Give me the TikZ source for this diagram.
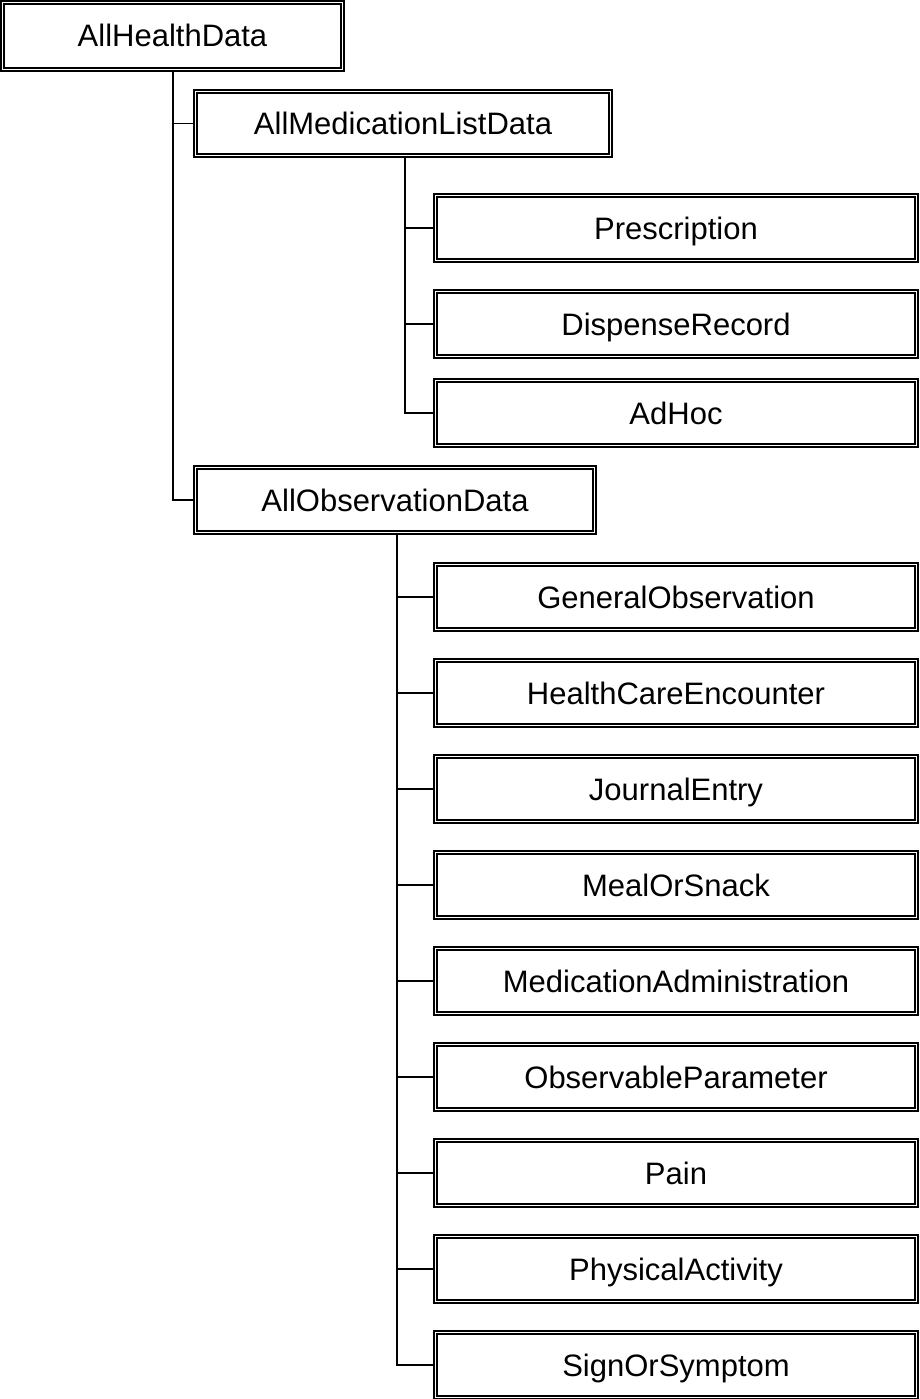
\documentclass[tikz,border=0pt]{standalone}
\usepackage{fontspec}
\setmainfont{Liberation Sans}
\usepackage{tikz}
\tikzset{>=stealth}
\tikzset{
  databox/.style={draw, line width=1.9pt, double, double distance=1.5pt,
    inner sep=0pt, minimum height=65pt, text height=22pt, text depth=0pt,
    font=\fontsize{31}{37}\selectfont},
  treeline/.style={line width=1.2pt}
}

\begin{document}
\begin{tikzpicture}[x=1pt, y=-1pt]
    \useasboundingbox (0,0) rectangle (919,1399);

    \node[databox, minimum width=339.8pt, minimum height=66.8pt] at (172.5, 36) (health) {AllHealthData};
    \node[databox, minimum width=414.8pt, minimum height=63.8pt] at (403, 123.5) (medlist) {AllMedicationListData};
    \node[databox, minimum width=398.8pt] at (395, 500) (obs) {AllObservationData};

    % medication list entries
    \node[databox, minimum width=480.8pt] at (676, 228) (prescription) {Prescription};
    \node[databox, minimum width=480.8pt] at (676, 324) (dispense) {DispenseRecord};
    \node[databox, minimum width=480.8pt] at (676, 413) (adhoc) {AdHoc};

    % observation entries
    \foreach \name/\txt [count=\i from 0] in {general/GeneralObservation, encounter/HealthCareEncounter,
        journal/JournalEntry, meal/MealOrSnack, medadmin/MedicationAdministration,
        parameter/ObservableParameter, pain/Pain, activity/PhysicalActivity, symptom/SignOrSymptom}
      \node[databox, minimum width=480.8pt] at (676, 597+96*\i) (\name) {\txt};

    \draw[treeline] ([xshift=0.5pt]health.south) |- (medlist.west);
    \draw[treeline] ([xshift=0.5pt]health.south) |- (obs.west);
    \foreach \kid in {prescription, dispense, adhoc}
      \draw[treeline] ([xshift=2pt]medlist.south) |- (\kid.west);
    \foreach \kid in {general, encounter, journal, meal, medadmin, parameter, pain, activity, symptom}
      \draw[treeline] ([xshift=2pt]obs.south) |- (\kid.west);
\end{tikzpicture}
\end{document}
